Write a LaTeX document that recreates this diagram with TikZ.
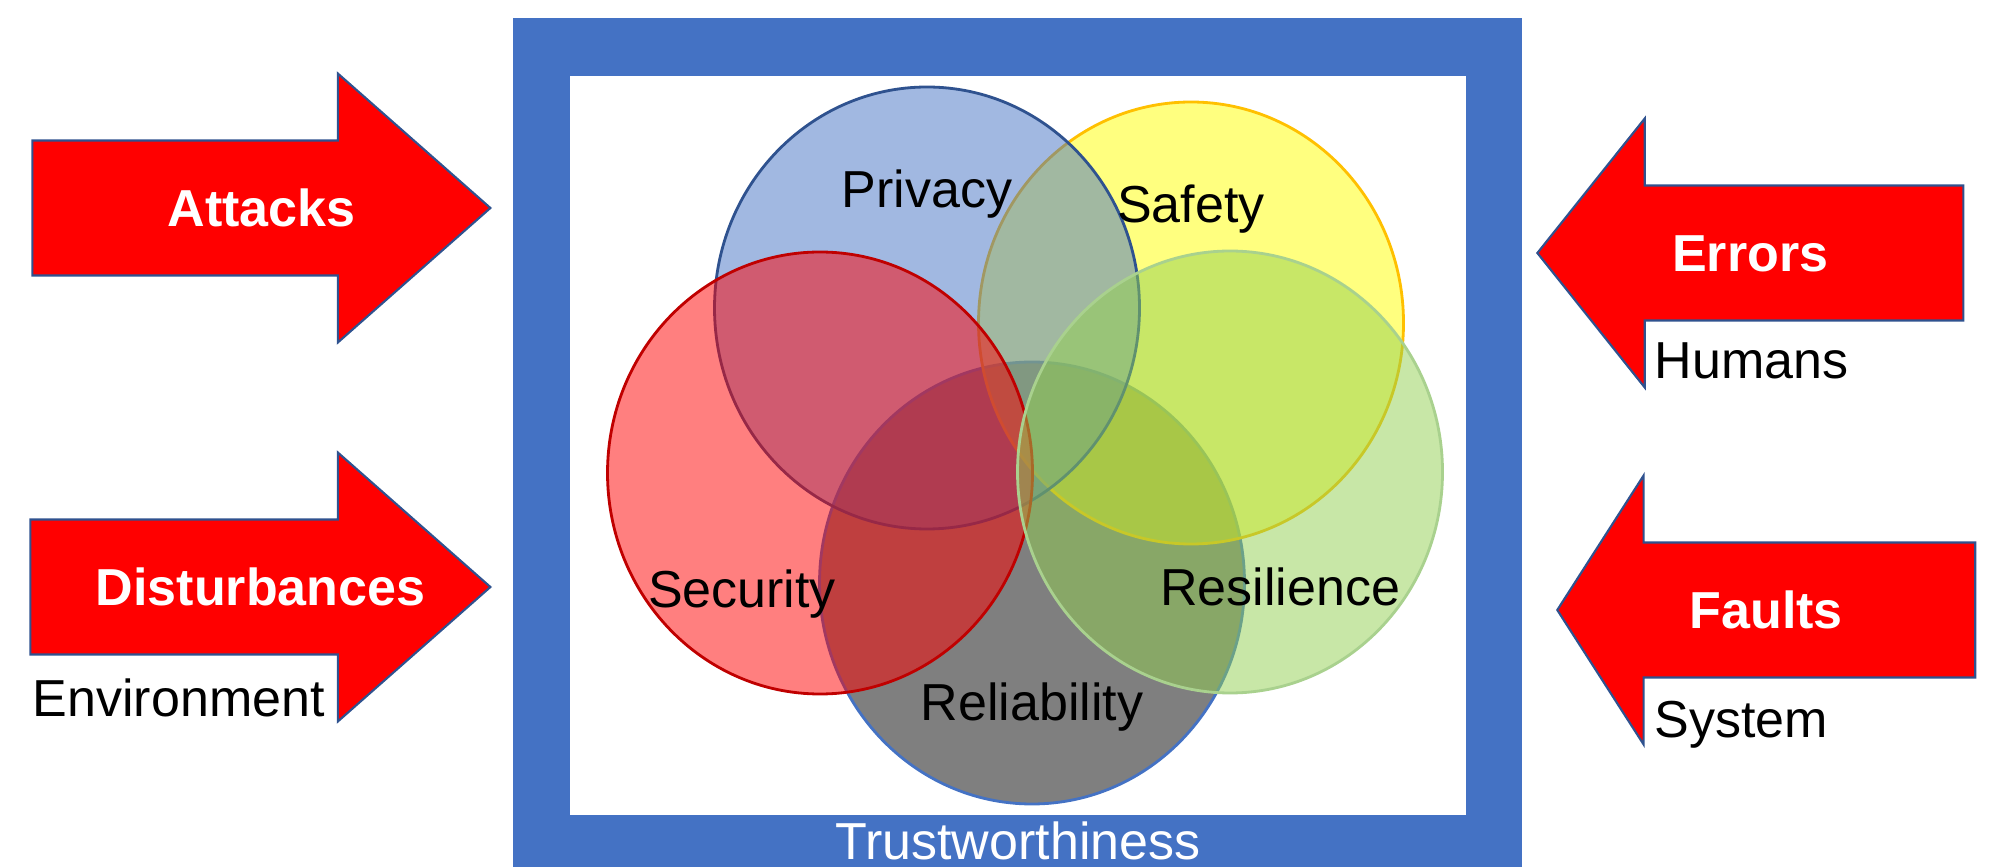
\documentclass[tikz,border=0pt]{standalone}
\usepackage{fontspec}
\setmainfont{Liberation Sans}
\usepackage{tikz}
\usetikzlibrary{shapes.geometric,shapes.arrows,calc}
\definecolor{frameblue}{HTML}{4472C4}
\definecolor{edgeblue}{HTML}{2F528F}
\definecolor{safetyyellow}{HTML}{FFFF00}
\definecolor{safetyedge}{HTML}{FFC000}
\definecolor{securityedge}{HTML}{C00000}
\definecolor{resiliencegreen}{HTML}{92D050}
\definecolor{resilienceedge}{HTML}{A9D18E}
\newcommand{\venntext}{\fontsize{14.8}{17}\selectfont}

\begin{document}
\begin{tikzpicture}[
  font=\venntext,
  circ/.style={ellipse,minimum width=4.25cm,minimum height=4.42cm,
               line width=.8pt,fill opacity=.5,inner sep=0pt},
  threat/.style={single arrow,anchor=tip,fill=red,draw=edgeblue,line width=.6pt,
                 text height=.473cm,text depth=.1cm,inner ysep=.378cm,
                 single arrow head extend=.67cm},
  threatlabel/.style={text=white,font=\venntext\bfseries,inner sep=0pt,
                      text height=.473cm,text depth=.1cm},
  cause/.style={anchor=base west,inner sep=0pt},
  tag/.style={anchor=base,inner sep=0pt}]
\useasboundingbox (0,0) rectangle (19.98,8.66);
% frame
\fill[frameblue] (5.13,-.3) rectangle (15.22,8.48);
\fill[white] (5.70,.51) rectangle (14.66,7.90);
% the five overlapping properties
\node[circ,fill=black,draw=frameblue] (reliability) at (10.32,2.83) {};
\node[circ,fill=safetyyellow,draw=safetyedge] (safety) at (11.91,5.43) {};
\node[circ,fill=frameblue,draw=edgeblue] (privacy) at (9.27,5.58) {};
\node[circ,fill=red,draw=securityedge] (security) at (8.20,3.93) {};
\node[circ,fill=resiliencegreen,draw=resilienceedge] (resilience) at (12.30,3.94) {};
\node[tag] (privacy-label) at (9.27,6.58) {Privacy};
\node[tag] (safety-label) at (11.91,6.43) {Safety};
\node[tag] (security-label) at (7.42,2.58) {Security};
\node[tag] (resilience-label) at (12.80,2.60) {Resilience};
\node[tag] (reliability-label) at (10.32,1.46) {Reliability};
\node[tag,text=white] (trust-label) at (10.18,.07) {Trustworthiness};
% threats coming in from both sides
\node[threat,minimum height=4.58cm,single arrow tip angle=82.8] (attacks) at (4.92,6.58) {};
\node[threat,minimum height=4.60cm,single arrow tip angle=82.8] (disturb) at (4.92,2.79) {};
\node[threat,shape border rotate=180,minimum height=4.26cm,single arrow tip angle=102.8] (errors) at (15.36,6.13) {};
\node[threat,shape border rotate=180,minimum height=4.18cm,single arrow tip angle=114.6] (faults) at (15.56,2.56) {};
\node[threatlabel] (attacks-label) at ($(attacks.tail)!.5!(attacks.tip)$) {Attacks};
\node[threatlabel] (disturb-label) at ($(disturb.tail)!.5!(disturb.tip)$) {Disturbances};
\node[threatlabel] (errors-label) at ($(errors.tail)!.5!(errors.tip)$) {Errors};
\node[threatlabel] (faults-label) at ($(faults.tail)!.5!(faults.tip)$) {Faults};
\node[cause] (environment) at (.32,1.50) {Environment};
\node[cause] (humans) at (16.54,4.87) {Humans};
\node[cause] (system) at (16.54,1.29) {System};
\end{tikzpicture}
\end{document}
